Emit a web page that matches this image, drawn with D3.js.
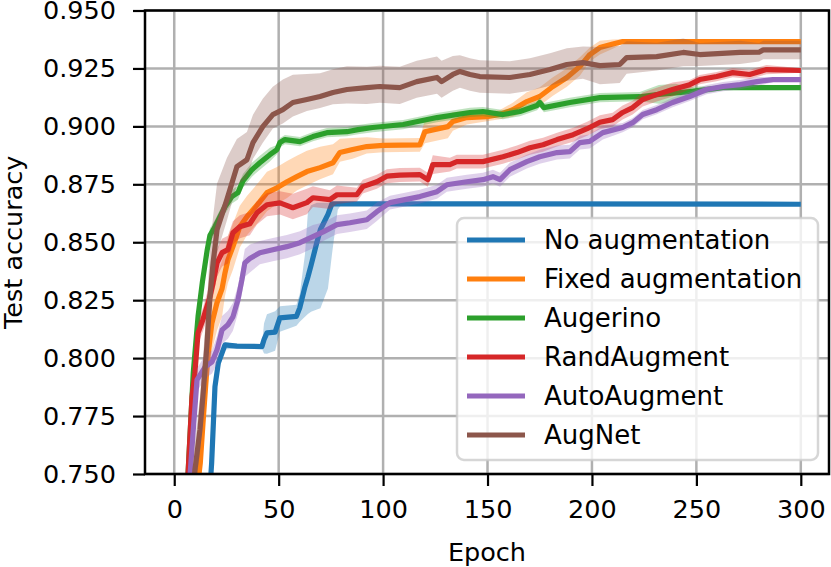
<!DOCTYPE html>
<html><head><meta charset="utf-8">
<script src="https://cdn.jsdelivr.net/npm/d3@7"></script>
<style>body{margin:0;background:#fff} svg{display:block} text{font-family:"DejaVu Sans",sans-serif;fill:#000}</style>
</head><body><svg id="c" width="831" height="567"></svg>
<script>
// ---- data: [epoch, mean, spread below, spread above] ----
const seriesNames = ["No augmentation","Fixed augmentation","Augerino","RandAugment","AutoAugment","AugNet"];
const xTicks = [0,50,100,150,200,250,300];
const yTicks = [0.750,0.775,0.800,0.825,0.850,0.875,0.900,0.925,0.950];

const noAugmentation = [
 [14,0.700,0.004,0.004],[17.9,0.7546,0.005,0.005],[19.5,0.7877,0.005,0.004],[21.1,0.7978,0.003,0.002],
 [24.3,0.8057,0.002,0.001],[30,0.8052,0.001,0.001],[42,0.8050,0.001,0.001],[43,0.8080,0.006,0.007],
 [44.4,0.8109,0.009,0.008],[48.3,0.8112,0.008,0.009],[50.6,0.8174,0.006,0.005],[58.5,0.8180,0.004,0.005],
 [60.1,0.8217,0.006,0.006],[62.6,0.8308,0.013,0.014],[64,0.8350,0.016,0.028],[65.5,0.8400,0.020,0.026],
 [68.3,0.8500,0.029,0.017],[70,0.8555,0.034,0.0115],[73.6,0.8620,0.032,0.005],[75.5,0.8666,0.022,0.0006],
 [78.3,0.8666,0.0026,0.0006],[80,0.8666,0.0004,0.0004],[300,0.8664,0.0003,0.0003]
];
const fixedAugmentation = [
 [8,0.715,0.010,0.010],[10,0.735,0.010,0.010],[12.5,0.755,0.012,0.012],[14,0.775,0.012,0.012],[16,0.800,0.012,0.012],
 [18,0.815,0.012,0.012],[20.5,0.824,0.012,0.012],[22.9,0.830,0.012,0.012],[24.3,0.8368,0.010,0.010],
 [25.7,0.8424,0.010,0.010],[28.1,0.8481,0.010,0.010],[31.4,0.8567,0.009,0.009],[34.8,0.8610,0.008,0.009],
 [37.7,0.8640,0.008,0.009],[41,0.8675,0.008,0.009],[44.4,0.8714,0.008,0.009],[49.2,0.8735,0.007,0.009],
 [54,0.8761,0.007,0.009],[58.7,0.8783,0.006,0.009],[63.5,0.8805,0.006,0.009],[69.8,0.8822,0.005,0.009],
 [76,0.8843,0.005,0.008],[79.3,0.8887,0.004,0.006],[85.4,0.8900,0.004,0.005],[92.2,0.8913,0.003,0.004],
 [100,0.8918,0.003,0.003],[117.6,0.8920,0.003,0.003],[120,0.8977,0.005,0.005],[131,0.8999,0.005,0.005],
 [133.4,0.9021,0.004,0.004],[140.1,0.9038,0.003,0.003],[149.7,0.9042,0.002,0.002],[155.9,0.9051,0.002,0.002],
 [162.1,0.9072,0.003,0.003],[168.8,0.9107,0.004,0.004],[175,0.9129,0.004,0.004],[181.3,0.9172,0.004,0.004],
 [188,0.9211,0.004,0.004],[194.2,0.9258,0.004,0.004],[199,0.9310,0.003,0.003],[203.8,0.9340,0.003,0.003],
 [210,0.9355,0.002,0.002],[214.8,0.9366,0.001,0.001],[300,0.9366,0.0005,0.0005]
];
const augerino = [
 [5,0.720,0.003,0.003],[6.6,0.750,0.003,0.003],[9.1,0.7936,0.003,0.003],[11.4,0.8180,0.003,0.003],
 [13.5,0.8330,0.003,0.003],[15.8,0.8468,0.003,0.003],[17.1,0.8530,0.003,0.003],[19.5,0.8567,0.003,0.003],
 [21.9,0.8610,0.003,0.003],[24.3,0.8653,0.003,0.003],[27.6,0.8697,0.003,0.003],[30.5,0.8714,0.003,0.003],
 [32.9,0.8765,0.003,0.003],[37.2,0.8813,0.003,0.003],[41,0.8843,0.003,0.003],[45.8,0.8878,0.003,0.003],
 [49.2,0.8900,0.002,0.002],[50.6,0.8930,0.002,0.002],[53,0.8943,0.002,0.002],[60.2,0.8934,0.002,0.002],
 [66.4,0.8956,0.002,0.002],[73.1,0.8973,0.002,0.002],[82.7,0.8977,0.002,0.002],[88,0.8986,0.002,0.002],
 [95,0.8995,0.002,0.002],[109.6,0.9008,0.002,0.002],[125.8,0.9038,0.002,0.002],[141.6,0.9060,0.002,0.002],
 [147.8,0.9064,0.002,0.002],[157.4,0.9051,0.002,0.002],[165.5,0.9064,0.002,0.002],[173.7,0.9090,0.002,0.002],
 [175,0.9103,0.002,0.002],[177,0.9081,0.002,0.002],[189.4,0.9103,0.002,0.002],[203.8,0.9124,0.002,0.002],
 [222.9,0.9128,0.002,0.002],[232,0.9138,0.004,0.004],[240,0.9144,0.004,0.004],[246.8,0.9150,0.002,0.002],
 [262.7,0.9167,0.001,0.001],[300,0.9167,0.0005,0.0005]
];
const randAugment = [
 [5,0.720,0.004,0.004],[6.6,0.750,0.005,0.005],[8.5,0.7833,0.005,0.005],[9.9,0.7936,0.005,0.005],
 [11.4,0.8109,0.005,0.005],[13.7,0.8165,0.005,0.005],[17.1,0.8265,0.006,0.006],[18.6,0.8325,0.006,0.006],
 [20.5,0.8411,0.006,0.006],[22.9,0.8455,0.006,0.006],[25.7,0.8468,0.006,0.006],[28.1,0.8541,0.005,0.005],
 [31.4,0.8567,0.005,0.005],[36.2,0.8580,0.005,0.005],[39.6,0.8627,0.005,0.005],[44.4,0.8662,0.005,0.005],
 [50.6,0.8670,0.005,0.005],[56.8,0.8649,0.005,0.006],[63.5,0.8671,0.005,0.006],[66.4,0.8692,0.004,0.005],
 [74.5,0.8684,0.004,0.004],[77.9,0.8705,0.004,0.004],[87.4,0.8705,0.003,0.003],[90.3,0.8740,0.003,0.003],
 [97,0.8761,0.003,0.003],[101.8,0.8785,0.003,0.003],[108,0.8790,0.003,0.003],[117.6,0.8792,0.003,0.003],
 [121.4,0.8770,0.003,0.003],[123.8,0.8835,0.004,0.004],[132,0.8835,0.003,0.003],[135.3,0.8848,0.003,0.003],
 [147.8,0.8848,0.003,0.003],[157.4,0.8869,0.003,0.003],[164.1,0.8887,0.003,0.003],[170.3,0.8908,0.003,0.003],
 [176.6,0.8921,0.003,0.003],[183.3,0.8943,0.003,0.003],[191,0.8964,0.003,0.003],[197.7,0.8990,0.003,0.003],
 [203.8,0.9018,0.003,0.003],[209.9,0.9029,0.003,0.003],[214.7,0.9060,0.003,0.003],[219.5,0.9081,0.003,0.003],
 [224.3,0.9116,0.003,0.003],[231,0.9137,0.003,0.003],[238.6,0.9159,0.003,0.003],[246.8,0.9180,0.002,0.002],
 [251.6,0.9202,0.002,0.002],[259.7,0.9215,0.002,0.002],[267.4,0.9232,0.002,0.002],[275.5,0.9224,0.002,0.002],
 [283.6,0.9245,0.002,0.002],[300,0.9241,0.001,0.001]
];
const autoAugment = [
 [5,0.700,0.005,0.005],[7.6,0.750,0.005,0.005],[9.1,0.7690,0.005,0.005],[10.9,0.7906,0.005,0.005],
 [14.8,0.7962,0.005,0.005],[18.1,0.7984,0.005,0.005],[20.5,0.8036,0.006,0.006],[22.9,0.8122,0.006,0.006],
 [25.7,0.8144,0.006,0.006],[28.1,0.8178,0.006,0.006],[30.5,0.8252,0.006,0.006],[32.4,0.8338,0.006,0.006],
 [33.8,0.8411,0.006,0.006],[36.2,0.8430,0.006,0.006],[41,0.8455,0.005,0.005],[47.2,0.8468,0.005,0.005],
 [53.9,0.8481,0.005,0.005],[60.2,0.8498,0.005,0.005],[66.4,0.8524,0.005,0.005],[71.3,0.8545,0.004,0.004],
 [77.9,0.8576,0.004,0.004],[84.1,0.8584,0.004,0.004],[92.2,0.8597,0.004,0.004],[97,0.8632,0.004,0.004],
 [103.3,0.8671,0.003,0.003],[117.6,0.8697,0.003,0.003],[125.8,0.8718,0.003,0.003],[130.5,0.8748,0.003,0.003],
 [140.1,0.8761,0.003,0.003],[147.8,0.8770,0.003,0.003],[152.6,0.8783,0.003,0.003],[156,0.8770,0.003,0.003],
 [160.7,0.8813,0.003,0.003],[168.8,0.8848,0.003,0.003],[175,0.8869,0.003,0.003],[183.3,0.8887,0.003,0.003],
 [189.4,0.8891,0.003,0.003],[194.2,0.8930,0.003,0.003],[198.9,0.8935,0.003,0.003],[205.2,0.8973,0.003,0.003],
 [214.7,0.8995,0.002,0.002],[219.5,0.9016,0.002,0.002],[224.3,0.9051,0.002,0.002],[231,0.9072,0.002,0.002],
 [238.6,0.9103,0.002,0.002],[246.8,0.9129,0.002,0.002],[254.9,0.9159,0.002,0.002],[262.7,0.9172,0.002,0.002],
 [270.9,0.9180,0.002,0.002],[279,0.9193,0.002,0.002],[286.7,0.9202,0.001,0.001],[300,0.9202,0.001,0.001]
];
const augNet = [
 [5,0.700,0.010,0.010],[9.9,0.7517,0.010,0.012],[12.3,0.7690,0.010,0.014],[13.7,0.7833,0.010,0.016],
 [15.6,0.8049,0.010,0.018],[17.1,0.8265,0.010,0.020],[18.6,0.8411,0.010,0.020],[20.5,0.8554,0.010,0.020],
 [25.2,0.8684,0.009,0.018],[30,0.8826,0.008,0.012],[34.8,0.8856,0.008,0.012],[37.7,0.8930,0.007,0.012],
 [42.4,0.8999,0.007,0.012],[47.2,0.9051,0.006,0.012],[52,0.9072,0.006,0.013],[56.8,0.9103,0.006,0.012],
 [63.5,0.9116,0.005,0.011],[69.8,0.9129,0.005,0.010],[76,0.9146,0.005,0.010],[82.7,0.9159,0.006,0.010],
 [92.2,0.9167,0.007,0.009],[98.4,0.9172,0.007,0.009],[108,0.9167,0.007,0.009],[116.1,0.9193,0.007,0.009],
 [125.8,0.9211,0.007,0.009],[128,0.9193,0.007,0.009],[133.4,0.9224,0.007,0.008],[136.8,0.9237,0.007,0.007],
 [141.6,0.9224,0.007,0.007],[146.3,0.9215,0.007,0.007],[160.7,0.9211,0.007,0.007],[170.3,0.9224,0.007,0.007],
 [179.9,0.9245,0.007,0.007],[188,0.9267,0.007,0.007],[195.7,0.9275,0.007,0.007],[203.8,0.9262,0.008,0.008],
 [213.3,0.9267,0.008,0.008],[216.6,0.9297,0.007,0.007],[231,0.9301,0.006,0.006],[243.7,0.9319,0.006,0.006],
 [251.6,0.9310,0.005,0.005],[270.9,0.9319,0.005,0.005],[280,0.9320,0.004,0.004],[282,0.9330,0.004,0.004],
 [300,0.9330,0.004,0.004]
];
const seriesData = [noAugmentation, fixedAugmentation, augerino, randAugment, autoAugment, augNet];
const seriesColors = ["#1f77b4","#ff7f0e","#2ca02c","#d62728","#9467bd","#8c564b"];

// ---- layout ----
const L = 145, R = 829, T = 10.5, B = 474;
const FS = 25.5;
const x = d3.scaleLinear().domain([-14, 313.5]).range([L, R]);
const y = d3.scaleLinear().domain([0.75, 0.95]).range([B, T]);
const svg = d3.select("#c");

svg.append("defs").append("clipPath").attr("id","clip")
  .append("rect").attr("x",L).attr("y",T).attr("width",R-L).attr("height",B-T);

// grid
const grid = svg.append("g");
grid.selectAll(".gx").data(xTicks).join("line")
  .attr("x1",d=>x(d)).attr("x2",d=>x(d)).attr("y1",T).attr("y2",B)
  .attr("stroke","#b0b0b0").attr("stroke-width",2.5);
grid.selectAll(".gy").data(yTicks).join("line")
  .attr("x1",L).attr("x2",R).attr("y1",d=>y(d)).attr("y2",d=>y(d))
  .attr("stroke","#b0b0b0").attr("stroke-width",2.5);

// series
const plot = svg.append("g").attr("clip-path","url(#clip)");
const area = d3.area().x(d=>x(d[0])).y0(d=>y(d[1]-d[2])).y1(d=>y(d[1]+d[3]));
const line = d3.line().x(d=>x(d[0])).y(d=>y(d[1]));
seriesData.forEach((data,i)=>{
  plot.append("path").datum(data).attr("d",area)
    .attr("fill",seriesColors[i]).attr("fill-opacity",0.3).attr("stroke","none");
  plot.append("path").datum(data).attr("d",line)
    .attr("fill","none").attr("stroke",seriesColors[i]).attr("stroke-width",5.2)
    .attr("stroke-linejoin","round");
});

// axes
const xAxis = svg.append("g").attr("transform",`translate(0,${B})`)
  .call(d3.axisBottom(x).tickValues(xTicks).tickSize(12).tickPadding(14).tickFormat(d3.format("d")));
const yAxis = svg.append("g").attr("transform",`translate(${L},0)`)
  .call(d3.axisLeft(y).tickValues(yTicks).tickSize(12).tickPadding(17).tickFormat(d3.format(".3f")));
[xAxis,yAxis].forEach(a=>{
  a.select(".domain").remove();
  a.selectAll(".tick line").attr("stroke","#000").attr("stroke-width",2.2);
  a.selectAll(".tick text").attr("font-size",FS).attr("font-family","DejaVu Sans").attr("fill","#000");
});

// spines
svg.append("rect").attr("x",L).attr("y",T).attr("width",R-L).attr("height",B-T)
  .attr("fill","none").attr("stroke","#000").attr("stroke-width",2.5);

// axis labels
svg.append("text").attr("x",(L+R)/2).attr("y",561).attr("text-anchor","middle")
  .attr("font-size",FS).text("Epoch");
svg.append("text").attr("transform",`translate(22,${(T+B)/2}) rotate(-90)`).attr("text-anchor","middle")
  .attr("font-size",FS).text("Test accuracy");

// legend
const lg = svg.append("g");
lg.append("rect").attr("x",457).attr("y",218).attr("width",361).attr("height",242).attr("rx",7)
  .attr("fill","#fff").attr("fill-opacity",0.8).attr("stroke","#cccccc").attr("stroke-opacity",0.8).attr("stroke-width",2.5);
seriesNames.forEach((name,i)=>{
  const cy = 240 + i*39;
  lg.append("line").attr("x1",467).attr("x2",525).attr("y1",cy).attr("y2",cy)
    .attr("stroke",seriesColors[i]).attr("stroke-width",5.2);
  lg.append("text").attr("x",544).attr("y",cy).attr("dy","0.36em").attr("font-size",26).text(name);
});
</script></body></html>
